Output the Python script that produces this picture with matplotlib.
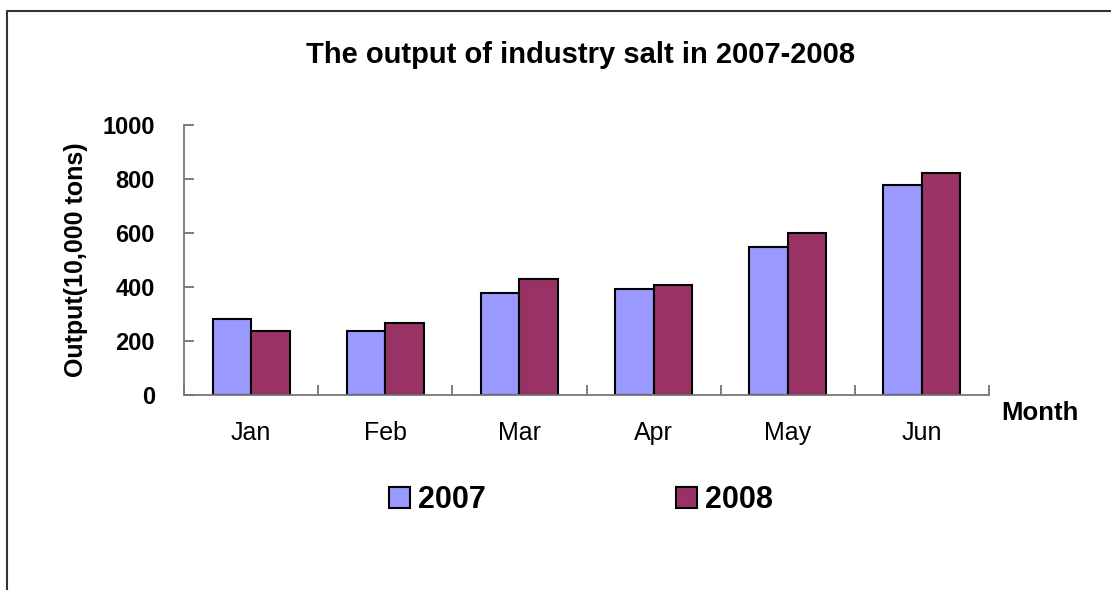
import matplotlib
matplotlib.use('Agg')
import matplotlib.pyplot as plt
from matplotlib.lines import Line2D
import numpy as np

plt.rcParams['font.family'] = ['Liberation Sans', 'DejaVu Sans']

months = ["Jan", "Feb", "Mar", "Apr", "May", "Jun"]
output_2007 = [281, 238, 379, 393, 549, 778]
output_2008 = [238, 268, 430, 409, 601, 823]
series_labels = ["2007", "2008"]
y_ticks = [0, 200, 400, 600, 800, 1000]

W, H = 1111, 590
fig = plt.figure(figsize=(W / 100, H / 100), dpi=100)
fig.patch.set_facecolor('white')

# plot area in pixels: x 184..989, y 125..395
ax = fig.add_axes([184 / W, 1 - 395 / H, 805 / W, 270 / H])

x = np.arange(len(months))
bw = 0.287
b1 = ax.bar(x - bw / 2, output_2007, bw, color='#9999FF', edgecolor='black', linewidth=1.5, label=series_labels[0])
b2 = ax.bar(x + bw / 2, output_2008, bw, color='#993366', edgecolor='black', linewidth=1.5, label=series_labels[1])

ax.set_xlim(-0.5, len(months) - 0.5)
ax.set_ylim(0, 1000)
ax.set_yticks(y_ticks)
ax.set_yticklabels([str(v) for v in y_ticks], fontsize=17, fontweight='bold')
ax.set_xticks(x)
ax.set_xticklabels(months, fontsize=18)
ax.set_xticks(np.arange(len(months) + 1) - 0.5, minor=True)
ax.tick_params(axis='x', which='major', length=0, pad=19)
ax.tick_params(axis='x', which='minor', direction='in', length=7, color='#666666', width=1.2)
ax.tick_params(axis='y', direction='in', length=7, color='#666666', width=1.2, pad=21)

for s in ['top', 'right']:
    ax.spines[s].set_visible(False)
for s in ['left', 'bottom']:
    ax.spines[s].set_color('#777777')
    ax.spines[s].set_linewidth(1.3)

ax.set_ylabel("Output(10,000 tons)", fontsize=18, fontweight='bold', labelpad=10)

fig.text(580 / W, 1 - 55 / H, "The output of industry salt in 2007-2008",
         ha='center', va='center', fontsize=21, fontweight='bold')
fig.text(1040 / W, 1 - 413 / H, "Month", ha='center', va='center', fontsize=18.5, fontweight='bold')

leg = fig.legend(handles=[b1, b2], loc='center', bbox_to_anchor=(581 / W, 1 - 500 / H),
                 ncol=2, frameon=False, prop={'size': 22, 'weight': 'bold'},
                 handlelength=0.7, handleheight=0.7, handletextpad=0.27, columnspacing=6.2)

# chart border (top and left only visible)
fig.add_artist(Line2D([7 / W, 7 / W, 1], [0, 1 - 11 / H, 1 - 11 / H],
                      transform=fig.transFigure, color='#333333', linewidth=1.5))

fig.savefig('out.png', dpi=100)
